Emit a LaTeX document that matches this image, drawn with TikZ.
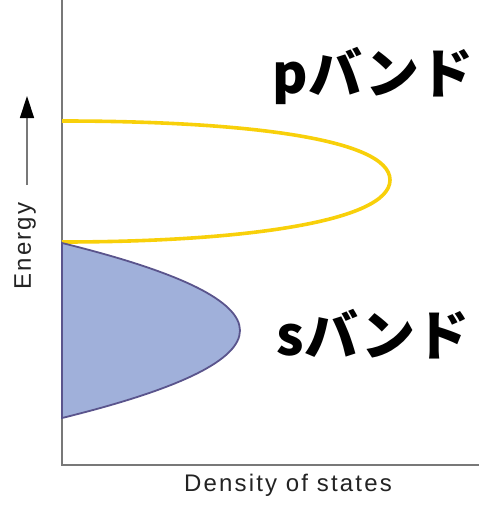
\documentclass[tikz,border=0pt]{standalone}
\usepackage{fontspec}
\setsansfont{Liberation Sans}[LetterSpace=9]
\newfontfamily\jpfont{Noto Sans CJK JP}
\usetikzlibrary{arrows.meta}
\definecolor{axisgray}{RGB}{120,120,120}
\definecolor{labelgray}{RGB}{35,35,35}
\definecolor{pband}{RGB}{248,208,10}
\definecolor{sbandfill}{RGB}{160,176,218}
\definecolor{sbandline}{RGB}{90,84,140}

\tikzset{
  axisline/.style={axisgray, line width=1.6pt},
  axislabel/.style={labelgray, font=\sffamily\fontsize{24}{28}\selectfont, inner sep=0pt},
  bandlabel/.style={black, font=\jpfont\bfseries\fontsize{54}{60}\selectfont, inner sep=0pt}
}

\begin{document}
\begin{tikzpicture}[x=1pt, y=-1pt]
\useasboundingbox (0,0) rectangle (479,506);
% ---- axes
\coordinate (origin) at (62,465);
\coordinate (ytop) at (62,0);
\coordinate (xend) at (479,465);
\draw[axisline] (ytop) -- (origin) -- (xend);
% ---- energy arrow and labels
\node[axislabel, rotate=90] (energy) at (25,246) {Energy};
\coordinate (arrowtail) at (27,185);
\coordinate (arrowhead) at (27,96);
\draw[axisgray, line width=1.4pt, -{Triangle[length=22pt, width=14pt, black]}] (arrowtail) -- (arrowhead);
\node[axislabel] (dos) at (288,485) {Density of states};
% ---- p band (empty)
\draw[pband, line width=3.6pt]
  (62,121) .. controls (240,121) and (390,138) .. (390,180)
           .. controls (390,222) and (240,242) .. (62,242);
% ---- s band (filled)
\draw[sbandline, fill=sbandfill, line width=1.8pt]
  (62,243) .. controls (299.3,301.3) and (299.3,359.7) .. (62,418) -- cycle;
% ---- band names
\node[bandlabel] (plabel) at (373,76) {pバンド};
\node[bandlabel] (slabel) at (373,334) {sバンド};
\end{tikzpicture}
\end{document}
